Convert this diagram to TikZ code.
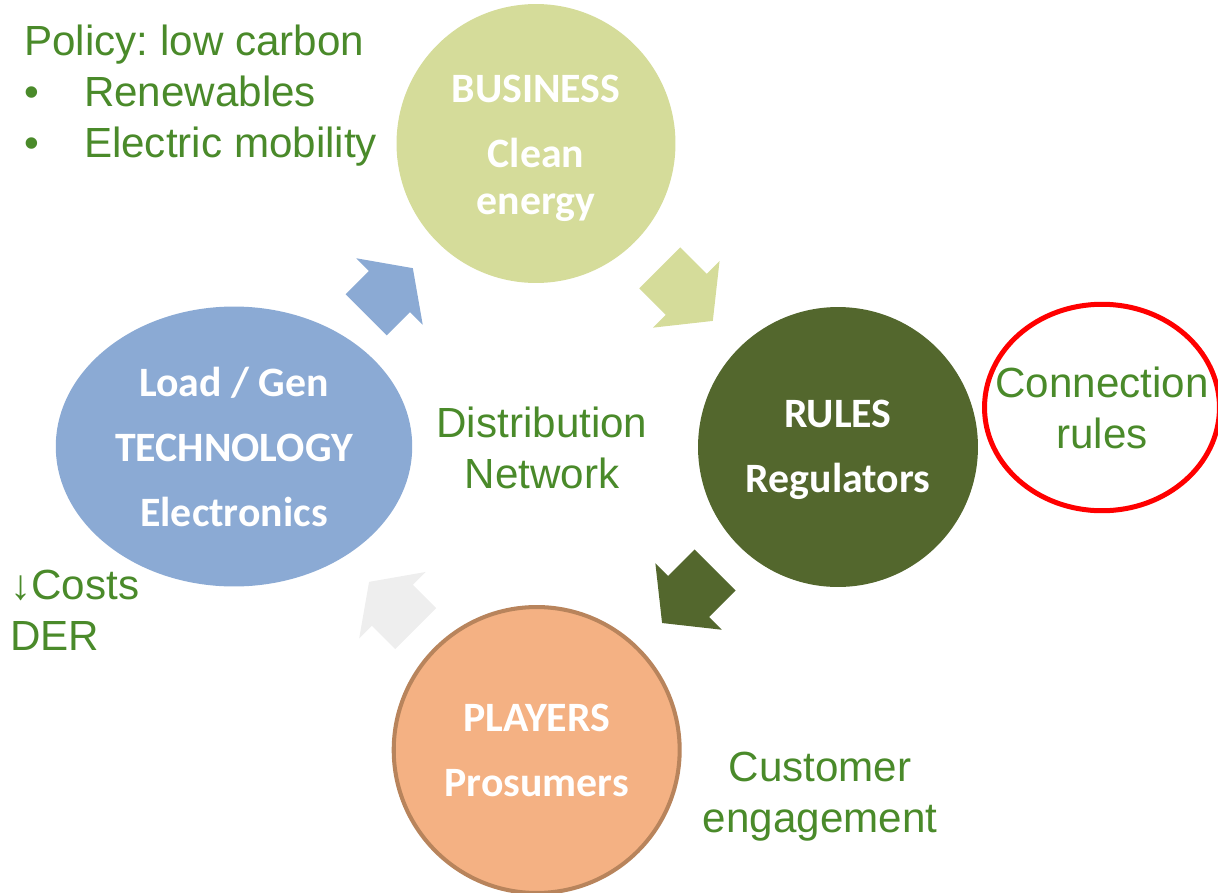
\documentclass[tikz,border=0pt]{standalone}
\usepackage{fontspec}
\setmainfont{Liberation Sans}
\newfontfamily\calibrifont{Carlito}
\usetikzlibrary{shapes.geometric}
\frenchspacing

\definecolor{businessgreen}{HTML}{D5DC9A}
\definecolor{techblue}{HTML}{8BAAD4}
\definecolor{rulesgreen}{HTML}{53672D}
\definecolor{playersorange}{HTML}{F4B183}
\definecolor{playersbrown}{HTML}{B8845C}
\definecolor{arrowgray}{HTML}{EEEEEE}
\definecolor{notegreen}{HTML}{4A8A2A}

\begin{document}
\begin{tikzpicture}[
  x=0.02cm, y=0.02cm,
  hub/.style={circle, inner sep=0pt, text=white, align=center,
    font=\calibrifont\bfseries\fontsize{23.8}{27}\selectfont},
  note/.style={text=notegreen, inner sep=0pt, font=\fontsize{24}{29}\selectfont},
  blockarrow/.pic={\fill[#1] (-37.5,-29) -- (0,-29) -- (0,-47) -- (37.5,0)
    -- (0,47) -- (0,29) -- (-37.5,29) -- cycle;}
]
\useasboundingbox (0,0) rectangle (1218,-893);

% Top circle: BUSINESS
\node[hub, fill=businessgreen, minimum size=5.58cm] (business) at (536,-143.5)
  {\rule{0pt}{21pt}BUSINESS\\[10pt]Clean\\energy};
% Left ellipse: TECHNOLOGY
\node[hub, ellipse, fill=techblue, minimum width=7.13cm, minimum height=5.6cm] (technology) at (234,-446.5)
  {Load / Gen\\[10pt]TECHNOLOGY\\[10pt]Electronics};
% Right circle: RULES
\node[hub, fill=rulesgreen, minimum size=5.6cm] (rules) at (838,-447)
  {\rule{0pt}{19pt}RULES\\[10pt]Regulators};
% Bottom circle: PLAYERS
\node[hub, fill=playersorange, draw=playersbrown, line width=2.3pt, minimum size=5.72cm] (players) at (536.7,-750)
  {PLAYERS\\[10pt]Prosumers};

% Cycle arrows between the circles
\pic[rotate=45, xscale=.88] at (389.5,-291.5) {blockarrow=techblue};
\pic[rotate=-45] at (686.3,-294.4) {blockarrow=businessgreen};
\pic[rotate=225] at (688.6,-596.5) {blockarrow=rulesgreen};
\pic[rotate=135, xscale=.88] at (392.4,-605.2) {blockarrow=arrowgray};

% Side notes
\node[note, anchor=base west, align=left] (policy) at (24,-157)
  {Policy: low carbon\\\makebox[34pt][l]{\textbullet}Renewables\\\makebox[34pt][l]{\textbullet}Electric mobility};
\node[note, align=center] (network) at (542,-448) {Distribution\\Network};
\node[note, align=left, anchor=west] (costs) at (10,-610) {↓Costs\\DER};
\node[note, align=center] (customers) at (820,-797) {Customer\\engagement};

% Highlight: connection rules
\node[note, ellipse, draw=red, line width=2.85pt, minimum width=4.7cm, minimum height=4.13cm, align=center] (connection) at (1102,-407.5)
  {\makebox[0pt]{Connection}\\\makebox[0pt]{rules}};

\end{tikzpicture}
\end{document}
